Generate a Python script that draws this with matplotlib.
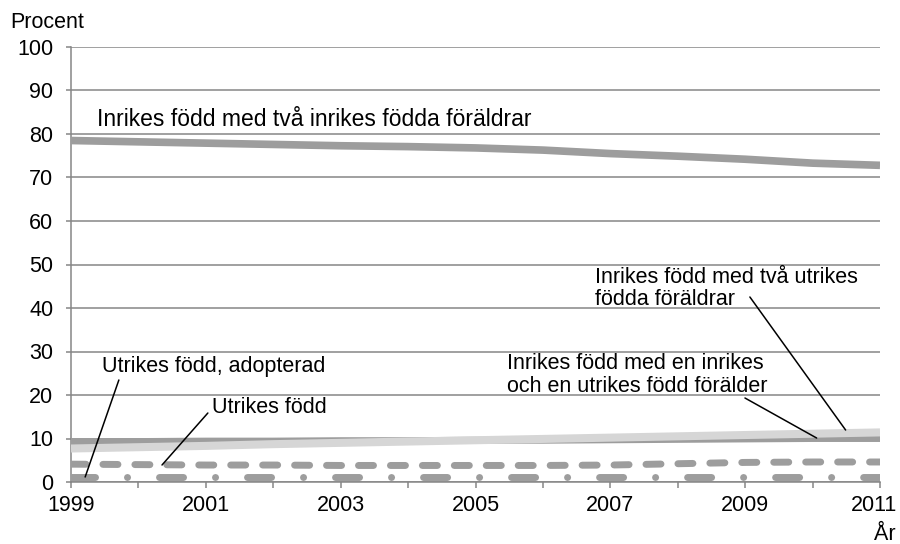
import matplotlib
matplotlib.use("Agg")
import matplotlib.pyplot as plt
from matplotlib.transforms import ScaledTranslation

# ---------------- data ----------------
years = list(range(1999, 2012))
inrikes_tva_inrikes = [78.5, 78.2, 77.9, 77.6, 77.3, 77.1, 76.8, 76.3, 75.5, 74.9, 74.2, 73.3, 72.8]
inrikes_en_inrikes = [9.3, 9.3, 9.4, 9.4, 9.5, 9.5, 9.6, 9.6, 9.7, 9.8, 9.9, 10.0, 10.0]
inrikes_tva_utrikes = [7.7, 8.0, 8.3, 8.7, 9.0, 9.3, 9.6, 9.9, 10.2, 10.5, 10.8, 11.1, 11.4]
utrikes_fodd = [4.1, 4.0, 3.9, 3.9, 3.8, 3.8, 3.8, 3.8, 3.9, 4.2, 4.5, 4.6, 4.6]
utrikes_adopterad = [1.15, 1.15, 1.15, 1.15, 1.15, 1.15, 1.15, 1.15, 1.15, 1.15, 1.15, 1.15, 1.15]

y_ticks = list(range(0, 101, 10))
x_tick_labels = [str(y) if (y - 1999) % 2 == 0 else "" for y in years]

# ---------------- style ----------------
plt.rcParams["font.family"] = ["Liberation Sans", "DejaVu Sans"]
plt.rcParams["lines.scale_dashes"] = False
FS = 15.5
GRID = "#868686"
MID = "#9d9d9d"
LIGHT = "#d6d6d6"

fig = plt.figure(figsize=(9.0, 5.44), dpi=100)
ax = fig.add_axes([71 / 900, 1 - 482 / 544, (880 - 71) / 900, (482 - 47) / 544])

ax.set_xlim(1999, 2011)
ax.set_ylim(0, 100)
ax.set_yticks(y_ticks)
ax.set_yticklabels([str(v) for v in y_ticks], fontsize=FS)
ax.set_xticks(years)
ax.set_xticklabels(x_tick_labels, fontsize=FS)

ax.yaxis.grid(True, color=GRID, linewidth=1.1)
ax.set_axisbelow(True)
for s in ["top", "right"]:
    ax.spines[s].set_visible(False)
for s in ["left", "bottom"]:
    ax.spines[s].set_color(GRID)
    ax.spines[s].set_linewidth(1.1)
ax.tick_params(axis="y", direction="out", length=3.8, width=1.1, color=GRID, pad=9)
ax.tick_params(axis="x", direction="out", length=4.3, width=1.1, color=GRID, pad=5)

# shift last x label a bit to the left (as in reference)
lbls = ax.get_xticklabels()
lbls[-1].set_transform(lbls[-1].get_transform() + ScaledTranslation(-6 / 100, 0, fig.dpi_scale_trans))

# ---------------- lines ----------------
ax.plot(years, inrikes_en_inrikes, color=MID, linewidth=5.0, solid_capstyle="butt", zorder=3)
ax.plot(years, inrikes_tva_utrikes, color=LIGHT, linewidth=5.8, solid_capstyle="butt", zorder=4)
ax.plot(years, utrikes_fodd, color=MID, linewidth=5.0, dash_capstyle="round",
        linestyle=(0, (10.8, 12.2)), zorder=4)
ax.plot(years, utrikes_adopterad, color=MID, linewidth=5.0, dash_capstyle="round",
        linestyle=(0, (17.3, 23.0, 0.07, 23.0)), zorder=4)
ax.plot(years, inrikes_tva_inrikes, color=MID, linewidth=5.5, solid_capstyle="butt", zorder=4)

# ---------------- labels ----------------
text_kw = dict(fontsize=FS, ha="left", va="baseline", color="black")
ax.text(1999.38, 81.84, "Inrikes född med två inrikes födda föräldrar",
        **{**text_kw, "fontsize": 16.5})
ax.text(2006.77, 45.75, "Inrikes född med två utrikes", **text_kw)
ax.text(2006.77, 40.69, "födda föräldrar", **text_kw)
ax.text(2005.47, 25.98, "Inrikes född med en inrikes", **text_kw)
ax.text(2005.47, 20.69, "och en utrikes född förälder", **text_kw)
ax.text(1999.46, 25.29, "Utrikes född, adopterad", **text_kw)
ax.text(2001.09, 15.79, "Utrikes född", **text_kw)

# leader lines: (from, to) in data coordinates
leaders = [
    ((1999.71, 23.45), (1999.21, 1.15)),
    ((2001.03, 15.86), (2000.35, 3.91)),
    ((2009.07, 42.53), (2010.49, 11.95)),
    ((2008.997, 19.31), (2010.06, 10.11)),
]
for (x0, y0), (x1, y1) in leaders:
    ax.annotate("", xy=(x1, y1), xytext=(x0, y0),
                arrowprops=dict(arrowstyle="-", color="black", linewidth=1.1,
                                shrinkA=0, shrinkB=0), zorder=6)

fig.text(10 / 900, 1 - 28 / 544, "Procent", fontsize=FS, ha="left", va="baseline")
fig.text(896 / 900, 4 / 544, "År", fontsize=FS, ha="right", va="baseline")

fig.savefig("out.png", dpi=100)
